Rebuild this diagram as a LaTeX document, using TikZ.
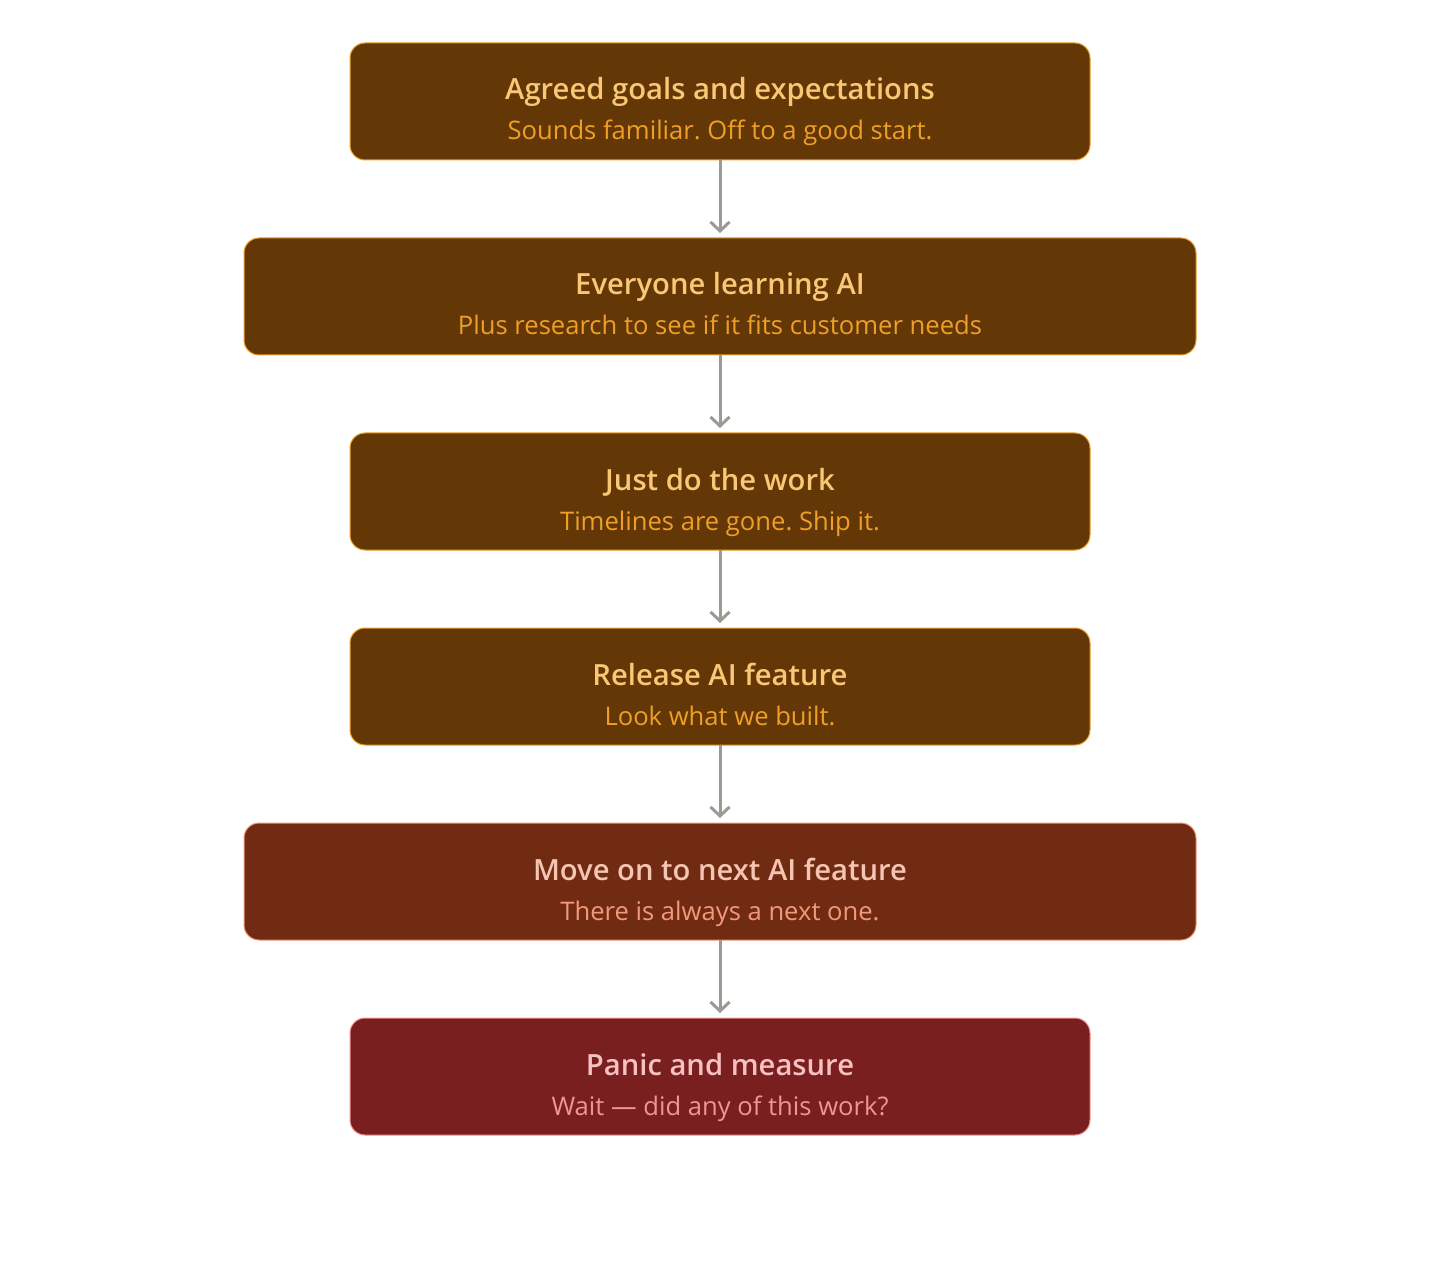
\documentclass[tikz,border=0pt]{standalone}
\usepackage{fontspec}
\setmainfont{Open Sans}[BoldFont={Open Sans Semibold}]
\usetikzlibrary{positioning,arrows.meta}
\definecolor{amberfill}{HTML}{633806}
\definecolor{amberline}{HTML}{EF9F27}
\definecolor{ambertitle}{HTML}{FAC775}
\definecolor{coralfill}{HTML}{712B13}
\definecolor{coralline}{HTML}{F0997B}
\definecolor{coraltitle}{HTML}{F5C4B3}
\definecolor{redfill}{HTML}{791F1F}
\definecolor{redline}{HTML}{F09595}
\definecolor{redtitle}{HTML}{F7C1C1}
\definecolor{flowgray}{HTML}{9C9A92}
\tikzset{
  stepbox/.style={draw=#1line, fill=#1fill, line width=0.5pt, rounded corners=7.5pt,
    minimum width=370pt, minimum height=58.5pt, inner sep=0pt, outer sep=0pt},
  widebox/.style={stepbox=#1, minimum width=476pt},
  steptitle/.style={text=#1title, font=\fontsize{14.6}{16}\selectfont\bfseries, anchor=base, inner sep=0pt},
  stepnote/.style={text=#1line, font=\fontsize{12.8}{14}\selectfont, anchor=base, inner sep=0pt},
  flow/.style={draw=flowgray, line width=1.5pt, -{Straight Barb[length=4.5pt,width=9.5pt,line width=1.5pt]}, shorten >=2.5pt}
}
\newcommand{\steptext}[4]{%
  \node[steptitle=#2] (#1-t) at ([yshift=0.75pt]#1.center) {#3};
  \node[stepnote=#2] (#1-n) at ([yshift=-19.25pt]#1.center) {#4};}
\frenchspacing
\begin{document}
\begin{tikzpicture}
\useasboundingbox (0,0) rectangle (720pt,-631pt);
\node[stepbox=amber] (goals) at (360pt,-50.75pt) {};
\node[widebox=amber, below=39pt of goals] (learn) {};
\node[stepbox=amber, below=39pt of learn] (work) {};
\node[stepbox=amber, below=39pt of work] (release) {};
\node[widebox=coral, below=39pt of release] (next) {};
\node[stepbox=red, below=39pt of next] (panic) {};
\steptext{goals}{amber}{Agreed goals and expectations}{Sounds familiar. Off to a good start.}
\steptext{learn}{amber}{Everyone learning AI}{Plus research to see if it fits customer needs}
\steptext{work}{amber}{Just do the work}{Timelines are gone. Ship it.}
\steptext{release}{amber}{Release AI feature}{Look what we built.}
\steptext{next}{coral}{Move on to next AI feature}{There is always a next one.}
\steptext{panic}{red}{Panic and measure}{Wait — did any of this work?}
\foreach \a/\b in {goals/learn,learn/work,work/release,release/next,next/panic}
  \draw[flow] (\a) -- (\b);
\end{tikzpicture}
\end{document}
